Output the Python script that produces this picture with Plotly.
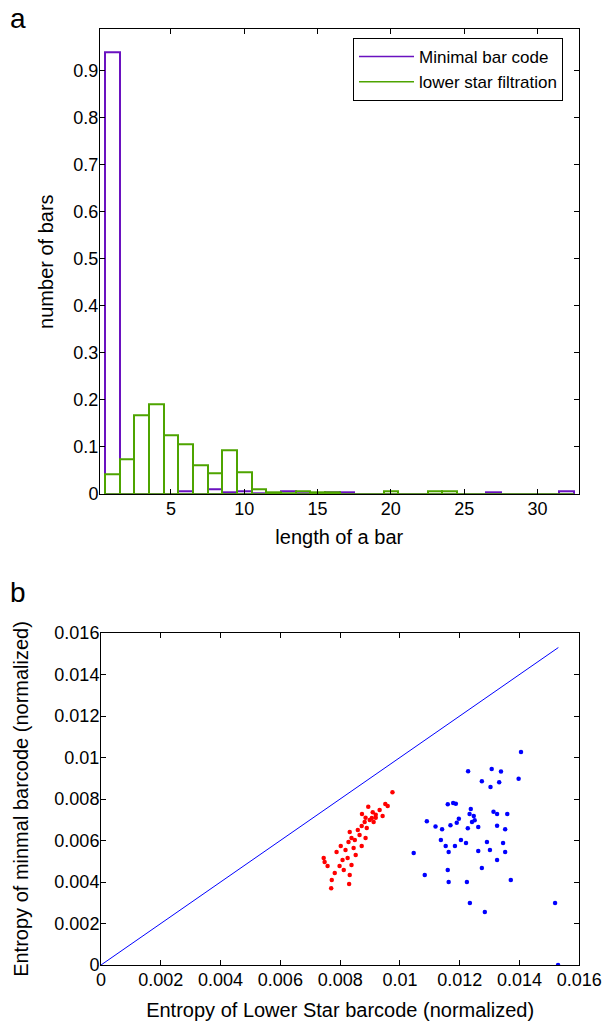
import plotly.graph_objects as go

# ---------------- Panel a: histogram data ----------------
bar_length = list(range(1, 33))
minimal_bar_code = [0.940, 0.0, 0.0, 0.0, 0.0, 0.005, 0.0, 0.009, 0.003, 0.005,
                    0.001, 0.002, 0.005, 0.002, 0.002, 0.003, 0.003, 0.0, 0.0, 0.0,
                    0.0, 0.0, 0.0, 0.0, 0.0, 0.0, 0.003, 0.0, 0.0, 0.0, 0.0, 0.005]
lower_star = [0.042, 0.074, 0.167, 0.191, 0.125, 0.106, 0.062, 0.044, 0.092, 0.047,
              0.011, 0.003, 0.001, 0.005, 0.003, 0.003, 0.0, 0.0, 0.0, 0.005,
              0.0, 0.0, 0.005, 0.005, 0.0, 0.0, 0.0, 0.0, 0.0, 0.0, 0.0, 0.0]

# ---------------- Panel b: scatter data ----------------
red_x = [0.00975, 0.00951, 0.00894, 0.00873, 0.00885, 0.00909, 0.00919, 0.00919,
         0.00745, 0.00748, 0.00758, 0.00772, 0.00782, 0.00770, 0.00830, 0.00798,
         0.00808, 0.00788, 0.00802, 0.00818, 0.00828, 0.00838, 0.00832, 0.00849,
         0.00859, 0.00865, 0.00872, 0.00882, 0.00889, 0.00899, 0.00906, 0.00912,
         0.00932, 0.00942, 0.00959, 0.00845, 0.00852, 0.00825, 0.00838, 0.00812,
         0.00832, 0.00872, 0.00885]
red_y = [0.00832, 0.00776, 0.00763, 0.00728, 0.00710, 0.00736, 0.00724, 0.00710,
         0.00516, 0.00496, 0.00477, 0.00410, 0.00443, 0.00370, 0.00390, 0.00477,
         0.00506, 0.00545, 0.00574, 0.00554, 0.00593, 0.00612, 0.00641, 0.00603,
         0.00651, 0.00627, 0.00670, 0.00689, 0.00660, 0.00699, 0.00709, 0.00689,
         0.00747, 0.00718, 0.00766, 0.00564, 0.00530, 0.00516, 0.00482, 0.00458,
         0.00434, 0.00574, 0.00612]
blue_x = [0.01405, 0.01228, 0.01307, 0.01338, 0.01274, 0.01332, 0.01397, 0.01303,
          0.01160, 0.01178, 0.01187, 0.01237, 0.01313, 0.01325, 0.01359, 0.01233,
          0.01247, 0.01197, 0.01250, 0.01241, 0.01190, 0.01169, 0.01090, 0.01119,
          0.01141, 0.01262, 0.01325, 0.01227, 0.01352, 0.01083, 0.01137, 0.01153,
          0.01163, 0.01184, 0.01204, 0.01221, 0.01160, 0.01262, 0.01291, 0.01301,
          0.01325, 0.01345, 0.01352, 0.01224, 0.01274, 0.01371, 0.01234, 0.01163,
          0.01284, 0.01519, 0.01529, 0.01046]
blue_y = [0.01027, 0.00934, 0.00945, 0.00932, 0.00885, 0.00881, 0.00897, 0.00858,
          0.00775, 0.00781, 0.00777, 0.00752, 0.00739, 0.00728, 0.00728, 0.00728,
          0.00718, 0.00705, 0.00697, 0.00689, 0.00686, 0.00673, 0.00693, 0.00667,
          0.00654, 0.00665, 0.00671, 0.00659, 0.00654, 0.00434, 0.00603, 0.00574,
          0.00545, 0.00574, 0.00603, 0.00588, 0.00458, 0.00549, 0.00593, 0.00554,
          0.00506, 0.00588, 0.00545, 0.00400, 0.00468, 0.00410, 0.00299, 0.00400,
          0.00255, 0.00299, 0.00000, 0.00540]
diag_x = [0.0, 0.0153]
diag_y = [0.0, 0.0153]

entropy_ticks = [0, 0.002, 0.004, 0.006, 0.008, 0.01, 0.012, 0.014, 0.016]
entropy_labels = ["0", "0.002", "0.004", "0.006", "0.008", "0.01", "0.012", "0.014", "0.016"]
hist_xticks = [5, 10, 15, 20, 25, 30]
hist_yticks = [0, 0.1, 0.2, 0.3, 0.4, 0.5, 0.6, 0.7, 0.8, 0.9]

PURPLE = "#6a12c0"
GREEN = "#4ea400"
FONT = "Liberation Sans, Arial, sans-serif"

# The page body margin is removed after drawing, so the figure fills the
# 606x1021 window exactly.
W, H = 606, 1021


def px(x):
    return x / W


def py(y):
    return 1 - y / H


fig = go.Figure()

# histogram bars (outline only)
fig.add_trace(go.Bar(x=bar_length, y=minimal_bar_code, width=1,
                     marker=dict(color="rgba(0,0,0,0)", line=dict(color=PURPLE, width=2)),
                     name="Minimal bar code", showlegend=False,
                     xaxis="x", yaxis="y"))
fig.add_trace(go.Bar(x=bar_length, y=lower_star, width=1,
                     marker=dict(color="rgba(0,0,0,0)", line=dict(color=GREEN, width=2)),
                     name="lower star filtration", showlegend=False,
                     xaxis="x", yaxis="y"))
# legend entries drawn as line samples
fig.add_trace(go.Scatter(x=[None], y=[None], mode="lines", line=dict(color=PURPLE, width=1.5),
                         name="Minimal bar code", xaxis="x", yaxis="y"))
fig.add_trace(go.Scatter(x=[None], y=[None], mode="lines", line=dict(color=GREEN, width=1.5),
                         name="lower star filtration", xaxis="x", yaxis="y"))

fig.add_trace(go.Scatter(x=diag_x, y=diag_y, mode="lines",
                         line=dict(color="#0000ff", width=1),
                         showlegend=False, xaxis="x2", yaxis="y2"))
fig.add_trace(go.Scatter(x=red_x, y=red_y, mode="markers",
                         marker=dict(color="#ff0000", size=4.5),
                         showlegend=False, xaxis="x2", yaxis="y2"))
fig.add_trace(go.Scatter(x=blue_x, y=blue_y, mode="markers",
                         marker=dict(color="#0000ff", size=4.5),
                         showlegend=False, xaxis="x2", yaxis="y2"))

axis_common = dict(showline=True, linecolor="black", linewidth=1, mirror="ticks",
                   ticks="inside", ticklen=5, tickcolor="black", showgrid=False,
                   zeroline=False, automargin=False,
                   tickfont=dict(family=FONT, size=18, color="black"))
title_font = dict(family=FONT, size=20, color="black")

fig.update_layout(
    width=W, height=H, margin=dict(l=0, r=0, t=0, b=0),
    paper_bgcolor="white", plot_bgcolor="white",
    barmode="overlay", bargap=0,
    font=dict(family=FONT, size=18, color="black"),
    xaxis=dict(domain=[px(100), px(578.5)], range=[0.16, 32.8],
               tickvals=hist_xticks, anchor="y", ticklabelstandoff=-2,
               title=dict(text="length of a bar", standoff=12, font=title_font),
               **axis_common),
    yaxis=dict(domain=[py(494), py(29.3)], range=[0, 0.988],
               tickvals=hist_yticks, anchor="x", ticklabelstandoff=-3,
               title=dict(text="number of bars", standoff=14, font=title_font),
               **axis_common),
    xaxis2=dict(domain=[px(101), px(579.3)], range=[0, 0.016],
                tickvals=entropy_ticks, ticktext=entropy_labels, anchor="y2",
                ticklabelstandoff=-2,
                title=dict(text="Entropy of Lower Star barcode (normalized)", standoff=18,
                           font=title_font), **axis_common),
    yaxis2=dict(domain=[py(965), py(633)], range=[0, 0.016],
                tickvals=entropy_ticks, ticktext=entropy_labels, anchor="x2",
                ticklabelstandoff=-3,
                title=dict(text="Entropy of minmal barcode (normalized)", standoff=20,
                           font=title_font), **axis_common),
    legend=dict(x=px(353), y=py(38), xanchor="left", yanchor="top",
                bordercolor="black", borderwidth=1, bgcolor="white",
                font=dict(family=FONT, size=17), tracegroupgap=0, itemwidth=55),
    annotations=[
        dict(text="a", x=px(9), y=py(2), xref="paper", yref="paper",
             xanchor="left", yanchor="top", showarrow=False, borderpad=0,
             font=dict(family=FONT, size=28)),
        dict(text="b", x=px(9), y=py(576), xref="paper", yref="paper",
             xanchor="left", yanchor="top", showarrow=False, borderpad=0,
             font=dict(family=FONT, size=28)),
    ],
)

fig.write_html(
    "out.html",
    config={"displayModeBar": False},
    post_script="document.body.style.margin='0';"
                "document.documentElement.style.overflow='hidden';",
)
